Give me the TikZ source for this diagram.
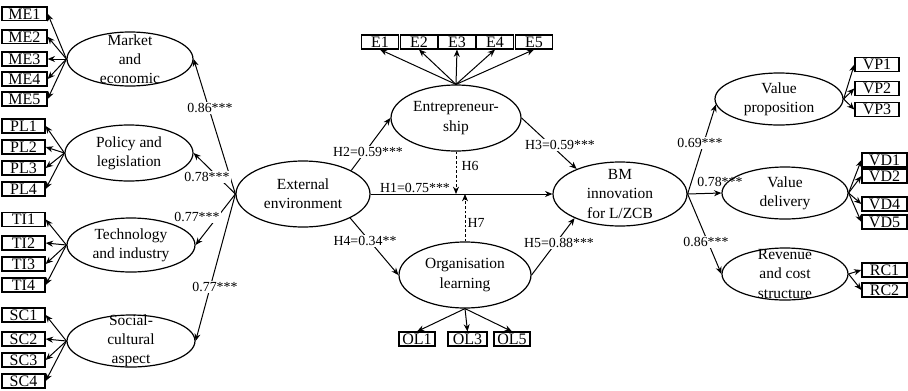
\documentclass[tikz,border=0pt]{standalone}
\usepackage{fontspec}
\setmainfont{Liberation Serif}
\usetikzlibrary{shapes.geometric,arrows.meta}
\begin{document}
\begin{tikzpicture}[x=0.75pt,y=-0.75pt,
  ell/.style 2 args={draw,ellipse,line width=0.9pt,inner sep=0pt,minimum width=#1*1.5pt,minimum height=#2*1.5pt},
  et/.style={align=center,inner sep=0pt,font=\fontsize{11.6}{14.4}\selectfont},
  bx/.style={draw,line width=1pt,inner sep=0pt,minimum width=#1*0.75pt,minimum height=10.3pt,text height=8pt,text depth=0pt,font=\fontsize{12}{14}\selectfont},
  arr/.style={line width=0.75pt,-{Stealth[length=5.5pt,width=4.5pt]}},
  darr/.style={arr,dash pattern=on 2pt off 1.5pt},
  lbl/.style={inner sep=0.8pt,font=\fontsize{10.4}{12}\selectfont},
  wlbl/.style={lbl,fill=white}]
\useasboundingbox (0,0) rectangle (908,390);
% latent variables
\node[ell={63}{27}] (mk) at (130,59) {};
\node[ell={64}{28}] (pl) at (129,153) {};
\node[ell={64}{27}] (ti) at (131,245) {};
\node[ell={64}{26}] (sc) at (131,341) {};
\node[ell={67}{33}] (ext) at (303,194) {};
\node[ell={65}{33}] (ent) at (456,118) {};
\node[ell={66}{33}] (org) at (465,275) {};
\node[ell={67}{32}] (bm) at (620,194) {};
\node[ell={64}{26}] (vp) at (779,99) {};
\node[ell={63}{26}] (vd) at (785,193) {};
\node[ell={63}{26}] (rc) at (785,274) {};
% texts
\node[et] (mkt) at (mk) {Market\\and\\economic};
\node[et] (plt) at (pl) {Policy and\\legislation};
\node[et] (tit) at (ti) {Technology\\and industry};
\node[et] (sct) at (sc) {Social-\\cultural\\aspect};
\node[et] (extt) at (ext) {External\\environment};
\node[et] (entt) at (ent) {Entrepreneur-\\ship};
\node[et] (orgt) at (org) {Organisation\\learning};
\node[et] (bmt) at (bm) {BM\\innovation\\for L/ZCB};
\node[et] (vpt) at (vp) {Value\\proposition};
\node[et] (vdt) at (vd) {Value\\delivery};
\node[et] (rct) at (rc) {Revenue\\and cost\\structure};
% indicator boxes
\node[bx=45] (me1) at (24.5,13.7) {ME1};
\node[bx=45] (me2) at (24.5,36.7) {ME2};
\node[bx=45] (me3) at (24.5,59) {ME3};
\node[bx=45] (me4) at (24.5,79) {ME4};
\node[bx=45] (me5) at (24.5,99) {ME5};
\node[bx=43] (pl1) at (23.5,126) {PL1};
\node[bx=43] (pl2) at (23.5,147) {PL2};
\node[bx=43] (pl3) at (23.5,168) {PL3};
\node[bx=43] (pl4) at (23.5,189) {PL4};
\node[bx=43] (ti1) at (23.5,219.5) {TI1};
\node[bx=43] (ti2) at (23.5,243) {TI2};
\node[bx=43] (ti3) at (23.5,264) {TI3};
\node[bx=43] (ti4) at (23.5,285) {TI4};
\node[bx=43] (sc1) at (23.5,315) {SC1};
\node[bx=43] (sc2) at (23.5,339) {SC2};
\node[bx=43] (sc3) at (23.5,360) {SC3};
\node[bx=43] (sc4) at (23.5,381) {SC4};
\node[bx=37] (e1) at (380,42) {E1};
\node[bx=37] (e2) at (419,42) {E2};
\node[bx=37] (e3) at (457,42) {E3};
\node[bx=37] (e4) at (495,42) {E4};
\node[bx=37] (e5) at (534,42) {E5};
\node[bx=36] (ol1) at (417,339) {OL1};
\node[bx=39] (ol3) at (467.5,339) {OL3};
\node[bx=36] (ol5) at (512,339) {OL5};
\node[bx=44] (vp1) at (877,64.5) {VP1};
\node[bx=44] (vp2) at (877,88.5) {VP2};
\node[bx=44] (vp3) at (877,109.5) {VP3};
\node[bx=45] (vd1) at (884.5,160) {VD1};
\node[bx=45] (vd2) at (884.5,176) {VD2};
\node[bx=45] (vd4) at (884.5,204) {VD4};
\node[bx=45] (vd5) at (884.5,222) {VD5};
\node[bx=45] (rc1) at (884.5,270) {RC1};
\node[bx=45] (rc2) at (884.5,290) {RC2};
% measurement arrows
\foreach \b in {me1,me2,me3,me4,me5} \draw[arr] (mk.west) -- (\b.east);
\foreach \b in {pl1,pl2,pl3,pl4} \draw[arr] (pl.west) -- (\b.east);
\foreach \b in {ti1,ti2,ti3,ti4} \draw[arr] (ti.west) -- (\b.east);
\foreach \b in {sc1,sc2,sc3,sc4} \draw[arr] (sc.west) -- (\b.east);
\foreach \b in {e1,e2,e3,e4,e5} \draw[arr] (ent.north) -- (\b.south);
\foreach \b in {ol1,ol3,ol5} \draw[arr] (org.south) -- (\b.north);
\foreach \b in {vp1,vp2,vp3} \draw[arr] (vp.east) -- (\b.west);
\foreach \b in {vd1,vd2,vd4,vd5} \draw[arr] (vd.east) -- (\b.west);
\foreach \b in {rc1,rc2} \draw[arr] (rc.east) -- (\b.west);
% structural arrows
\draw[arr] (ext.west) -- (mk.east);
\draw[arr] (ext.west) -- (pl.east);
\draw[arr] (ext.west) -- (ti.east);
\draw[arr] (ext.west) -- (sc.east);
\draw[arr] (ext.26) -- (ent.west);
\draw[arr] (ext.-27) -- (org.west);
\draw[arr] (ext.east) -- (bm.west);
\draw[arr] (ent.east) -- (bm.150);
\draw[arr] (org.east) -- (bm.208);
\draw[arr] (bm.east) -- (vp.185);
\draw[arr] (bm.east) -- (vd.west);
\draw[arr] (bm.east) -- (rc.west);
\coordinate (h6e) at (ent.south |- ext.east);
\coordinate (h7e) at (org.north |- ext.east);
\draw[darr] (ent.south) -- (h6e);
\draw[darr] (org.north) -- (h7e);
% labels
\node[wlbl] (la) at (210,108) {0.86***};
\node[wlbl] (lb) at (207,177) {0.78***};
\node[wlbl] (lc) at (197,217) {0.77***};
\node[wlbl] (ld) at (215,287) {0.77***};
\node[wlbl] (h2) at (368,152) {H2=0.59***};
\node[wlbl] (h4) at (365,241) {H4=0.34**};
\node[lbl] (h1) at (415,188) {H1=0.75***};
\node[lbl] (h6) at (470,166) {H6};
\node[lbl] (h7) at (476,223) {H7};
\node[wlbl] (h3) at (560,145) {H3=0.59***};
\node[wlbl] (h5) at (559,243) {H5=0.88***};
\node[wlbl] (le) at (700,143) {0.69***};
\node[lbl] (lf) at (720,182) {0.78***};
\node[wlbl] (lg) at (706,242) {0.86***};
\end{tikzpicture}
\end{document}
